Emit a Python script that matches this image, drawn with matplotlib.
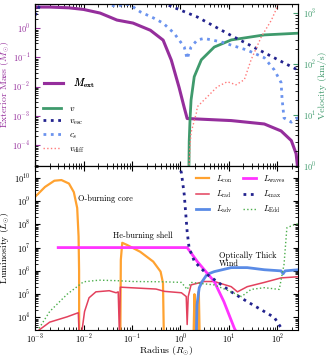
import numpy as np
import matplotlib
matplotlib.use("Agg")
import matplotlib.pyplot as plt

plt.rcParams.update({
    "font.family": "serif",
    "font.serif": ["cmr10", "DejaVu Serif"],
    "mathtext.fontset": "cm",
    "axes.formatter.use_mathtext": True,
    "axes.unicode_minus": False,
    "font.size": 6,
})

# ---- top panel: exterior mass and velocities ----
r_mext = [1e-3, 2e-3, 5e-3, 1e-2, 2.2e-2, 3.5e-2, 4.9e-2, 0.105, 0.24, 0.44,
          0.65, 0.94, 1.2, 1.38, 11.2, 54, 120, 195, 245, 272]
m_ext = [5.3, 5.3, 5.0, 4.4, 3.3, 2.4, 1.9, 1.5, 0.85, 0.39,
         0.08, 9.3e-3, 1.9e-3, 8.0e-4, 6.8e-4, 5.2e-4, 3.0e-4, 1.4e-4, 5e-5, 1e-5]

r_v = [1.5, 1.52, 1.58, 1.66, 1.93, 2.7, 5.0, 11.2, 54, 272]
v = [0.9, 3.0, 8.0, 19.5, 56, 120, 214, 295, 370, 400]

r_vesc_core = [1e-3, 1.2e-3, 1.6e-3]
vesc_core = [900, 1300, 1900]
r_vesc_env = [0.3, 0.45, 2.24, 11.2, 272]
vesc_env = [1800, 1550, 830, 360, 75]

r_cs = [0.032, 0.038, 0.05, 0.07, 0.091, 0.148, 0.275, 0.44, 0.74, 1.2, 1.38,
        1.66, 2.24, 3.1, 6.9, 24, 54, 87, 120, 126, 138, 195, 272]
cs = [2000, 1400, 1350, 1480, 1450, 1050, 800, 630, 400, 215, 126,
      215, 295, 316, 270, 186, 132, 76, 43, 20, 8.7, 7.2, 8.9]

r_vdiff = [1.51, 1.58, 1.66, 2.14, 2.24, 3.55, 5.75, 9.3, 14.1, 20.9, 28.8,
           46.8, 75.9, 100, 112]
vdiff = [0.9, 2.5, 4.5, 11, 14.5, 22.4, 35.5, 44.7, 38.9, 49, 120,
         339, 724, 1320, 2000]

# ---- bottom panel: luminosities ----
r_con = [1e-3, 1.6e-3, 2.5e-3, 3.5e-3, 5e-3, 6.3e-3, 7.4e-3, 7.9e-3, 8.1e-3, 8.13e-3, np.nan,
         0.0575, 0.0589, 0.063, 0.079, 0.148, 0.275, 0.39, 0.437, 0.457, np.nan,
         1.86, 1.95, 2.04, np.nan, 2.29, 2.4, 2.51]
l_con = [1.5e9, 4e9, 7.4e9, 7.9e9, 5.6e9, 2.4e9, 5e8, 3e7, 1e6, 1e3, np.nan,
         1e3, 3e6, 1.6e7, 1.3e7, 6.6e6, 2.5e6, 9.3e5, 3e5, 1e3, np.nan,
         1e3, 1e5, 1e3, np.nan, 1e3, 1.3e5, 1e3]

r_rad = [1.1e-3, 2e-3, 4.6e-3, 7.8e-3, 8.1e-3, 9.1e-3, 1.05e-2, 1.3e-2, 1.8e-2,
         3.4e-2, 4.7e-2, 5.2e-2, 5.5e-2, 5.75e-2, 0.314, 0.47, 1.05, 1.32, 1.38,
         1.45, 1.66, 3.1, 5.0, 11.2, 15.1, 24, 54, 120, 272]
l_rad = [2.5e3, 6.3e3, 1.07e4, 1.6e4, 2e3, 2e3, 1.8e4, 7e4, 1.26e5,
         1.41e5, 1.15e5, 1.26e5, 2e3, 2.0e5, 1.66e5, 1.32e5, 1.15e5, 7.9e4, 5e3,
         7.9e4, 2.5e5, 3.5e5, 3.5e5, 2.1e5, 1.26e5, 2.1e5, 3.2e5, 5e5, 5.6e5]

r_adv = [2.14, 2.2, 2.45, 2.82, 3.55, 5.0, 11.2, 24, 54, 120, 132, 145, 272]
l_adv = [2e3, 3.5e4, 1.9e5, 3.5e5, 7.1e5, 9.3e5, 1.38e6, 1.38e6, 1.12e6, 1.0e6, 7.5e5, 1.0e6, 1.12e6]

r_waves = [3.0e-3, 1.38, 2.24, 5.0, 7.9, 12.9, 14.1]
l_waves = [1e7, 1e7, 2.5e6, 3.5e5, 4.8e4, 3.6e3, 2.5e3]

r_max = [0.93, 1.05, 1.2, 1.38, 1.51, 1.95, 3.55, 11.2, 24, 54, 87, 120, 126]
l_max = [4e10, 1.6e10, 1.9e9, 4.8e7, 1e7, 2.5e6, 7.1e5, 1.26e5, 4.8e4, 1.8e4, 1e4, 3.6e3, 2.5e3]

r_edd = [1.1e-3, 2e-3, 4.6e-3, 1e-2, 2.1e-2, 4.9e-2, 0.105, 0.44, 1.05, 1.38, 1.66,
         5.0, 11.2, 18.2, 28.8, 54, 110, 138, 158, 224, 272]
l_edd = [2.5e3, 1.8e4, 1e5, 3.4e5, 4e5, 3.8e5, 3.5e5, 3.4e5, 3.2e5, 1.6e5, 3.2e5,
         2.5e5, 1.26e5, 7.9e4, 1.6e5, 1.9e5, 1.6e5, 1.9e6, 7.1e7, 9.5e7, 1.07e8]

purple = "#952e9c"
green = "#3f9a6c"
navy = "#23238e"
light_blue = "#6b93ee"
salmon = "#ff7a7a"
orange = "#ffa230"
crimson = "#e3415d"
adv_blue = "#5a8be6"
magenta = "#ff33ff"
edd_green = "#4cae4c"

fig = plt.figure(figsize=(3.28, 3.56), dpi=100)
ax1 = fig.add_axes([0.107, 0.534, 0.802, 0.455])
ax2 = fig.add_axes([0.107, 0.072, 0.802, 0.462], sharex=ax1)
ax1r = ax1.twinx()

# top panel
m_line, = ax1.plot(r_mext, m_ext, color=purple, lw=2.2, label=r"$M_{\rm ext}$")
ax1.set_xscale("log")
ax1.set_yscale("log")
ax1.set_xlim(1e-3, 270)
ax1.set_ylim(1.9e-5, 6.8)
ax1.set_ylabel(r"Exterior Mass ($M_{\odot}$)", color=purple, fontsize=7, labelpad=0)
ax1.tick_params(axis="y", colors=purple, labelcolor=purple)
for s in ax1.spines.values():
    s.set_color("black")

h_v, = ax1r.plot(r_v, v, color=green, lw=2.0, label=r"$v$")
h_esc, = ax1r.plot(r_vesc_core, vesc_core, color=navy, lw=2.0, ls=":", label=r"$v_{\rm esc}$")
ax1r.plot(r_vesc_env, vesc_env, color=navy, lw=2.0, ls=":")
h_cs, = ax1r.plot(r_cs, cs, color=light_blue, lw=2.0, ls=":", label=r"$c_s$")
h_diff, = ax1r.plot(r_vdiff, vdiff, color=salmon, lw=1.0, ls=":", label=r"$v_{\rm diff}$")
ax1r.set_yscale("log")
ax1r.set_ylim(1, 1500)
ax1r.set_ylabel("Velocity (km/s)", color=green, fontsize=7, labelpad=1)
ax1r.tick_params(axis="y", colors=green, labelcolor=green)

leg1 = ax1.legend(handles=[m_line], loc="upper left", bbox_to_anchor=(0.0, 0.61),
                  frameon=False, fontsize=7.5, handlelength=1.8, handletextpad=0.9)
ax1.add_artist(leg1)
ax1r.legend(handles=[h_v, h_esc, h_cs, h_diff], loc="upper left",
            bbox_to_anchor=(0.0, 0.43), frameon=False, fontsize=6.5,
            handlelength=1.95, handletextpad=0.9, labelspacing=0.45)

ax1.tick_params(axis="x", which="both", direction="in", top=True, labelbottom=False)
ax1.tick_params(axis="y", which="both", direction="in")
ax1r.tick_params(axis="y", which="both", direction="in")

# bottom panel
ax2.plot(r_con, l_con, color=orange, lw=1.6, label=r"$L_{\rm con}$")
ax2.plot(r_rad, l_rad, color=crimson, lw=1.1, label=r"$L_{\rm rad}$")
ax2.plot(r_adv, l_adv, color=adv_blue, lw=2.0, label=r"$L_{\rm adv}$")
ax2.plot(r_waves, l_waves, color=magenta, lw=2.0, label=r"$L_{\rm waves}$")
ax2.plot(r_max, l_max, color=navy, lw=2.0, ls=":", label=r"$L_{\rm max}$")
ax2.plot(r_edd, l_edd, color=edd_green, lw=1.0, ls=":", label=r"$L_{\rm Edd}$")
ax2.set_yscale("log")
ax2.set_ylim(2.8e3, 3.2e10)
ax2.set_xlabel(r"Radius ($R_{\odot}$)", fontsize=7, labelpad=-0.5)
ax2.set_ylabel(r"Luminosity ($L_{\odot}$)", fontsize=7, labelpad=1)
ax2.tick_params(which="both", direction="in", top=True, right=True)
ax2.tick_params(axis="x", pad=1.5)
ax2.legend(loc="upper right", ncol=2, frameon=False, fontsize=6,
           handlelength=1.6, handletextpad=0.8, columnspacing=1.2, labelspacing=0.45,
           bbox_to_anchor=(0.98, 1.0))

ax2.text(7.6e-3, 1.26e9, "O-burning core", fontsize=6, va="center")
ax2.text(0.041, 3.2e7, "He-burning shell", fontsize=6, va="center")
ax2.text(6.3, 7e6, "Optically Thick\nWind", fontsize=6, va="top", linespacing=0.95)

fig.savefig("out.png", dpi=100)
